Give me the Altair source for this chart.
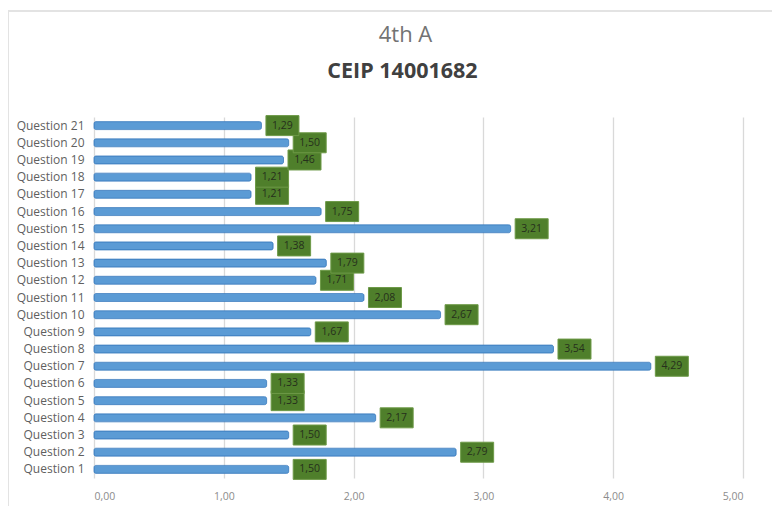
import altair as alt
import pandas as pd

title_text = "4th A"
subtitle_text = "CEIP 14001682"
questions = [f"Question {i}" for i in range(1, 22)]
values = [1.50, 2.79, 1.50, 2.17, 1.33, 1.33, 4.29, 3.54, 1.67, 2.67,
          2.08, 1.71, 1.79, 1.38, 3.21, 1.75, 1.21, 1.21, 1.46, 1.50, 1.29]
x_ticks = [0, 1, 2, 3, 4, 5]

df = pd.DataFrame({"question": questions, "value": values})
df["label"] = [f"{v:.2f}".replace(".", ",") for v in values]
one = pd.DataFrame({"k": [0]})

W, H = 649, 361
FONT = "Open Sans"
order = list(reversed(questions))

x_enc = alt.X("value:Q", scale=alt.Scale(domain=[0, 5], nice=False),
              axis=alt.Axis(values=x_ticks, title=None, domain=False, ticks=False,
                            labelExpr="replace(format(datum.value, '.2f'), '.', ',')",
                            labelColor="#8c8c8c", labelFont=FONT, labelFontSize=10.5,
                            labelPadding=13, gridColor="#d9d9d9", gridWidth=1.3))
y_enc = alt.Y("question:N", sort=order, scale=alt.Scale(paddingInner=0, paddingOuter=0),
              axis=alt.Axis(title=None, domain=False, ticks=False, grid=False,
                            labelColor="#5f5f5f", labelFont=FONT, labelFontSize=12,
                            labelPadding=10))

bars = alt.Chart(df).mark_bar(size=8, color="#5b9bd5", stroke="#3f7fc0",
                              strokeWidth=0.8, cornerRadius=2).encode(x=x_enc, y=y_enc)

boxes = alt.Chart(df).mark_point(
    shape="M-1.65,-1H1.65V1H-1.65Z", size=400, filled=True, opacity=1,
    fill="#4f7f2b", stroke="#6e9a48", strokeWidth=1, xOffset=21
).encode(x="value:Q", y=alt.Y("question:N", sort=order))

texts = alt.Chart(df).mark_text(
    xOffset=21, fontSize=10.5, font=FONT, color="#26301c",
    align="center", baseline="middle"
).encode(x="value:Q", y=alt.Y("question:N", sort=order), text="label:N")

frame_top = alt.Chart(one).mark_rule(color="#e3e3e3", strokeWidth=2).encode(
    x=alt.value(-86), x2=alt.value(W + 40), y=alt.value(-106))
frame_left = alt.Chart(one).mark_rule(color="#e3e3e3", strokeWidth=2).encode(
    x=alt.value(-86), y=alt.value(-106), y2=alt.value(H + 40))

t1 = alt.Chart(one).mark_text(font=FONT, fontSize=22, color="#737373",
                              align="center", baseline="middle").encode(
    x=alt.value(W / 2 - 13), y=alt.value(-82), text=alt.value(title_text))
t2 = alt.Chart(one).mark_text(font=FONT, fontSize=21.5, fontWeight="bold", color="#404040",
                              align="center", baseline="middle").encode(
    x=alt.value(W / 2 - 16), y=alt.value(-45), text=alt.value(subtitle_text))

chart = alt.layer(frame_top, frame_left, t1, t2, bars, boxes, texts).properties(
    width=W, height=H,
    background="white",
    autosize=alt.AutoSizeParams(type="none"),
    padding={"left": 86, "top": 109, "right": 29, "bottom": 28},
).configure_view(strokeWidth=0)

chart.save("out.html", embed_options={"renderer": "svg", "actions": False})
